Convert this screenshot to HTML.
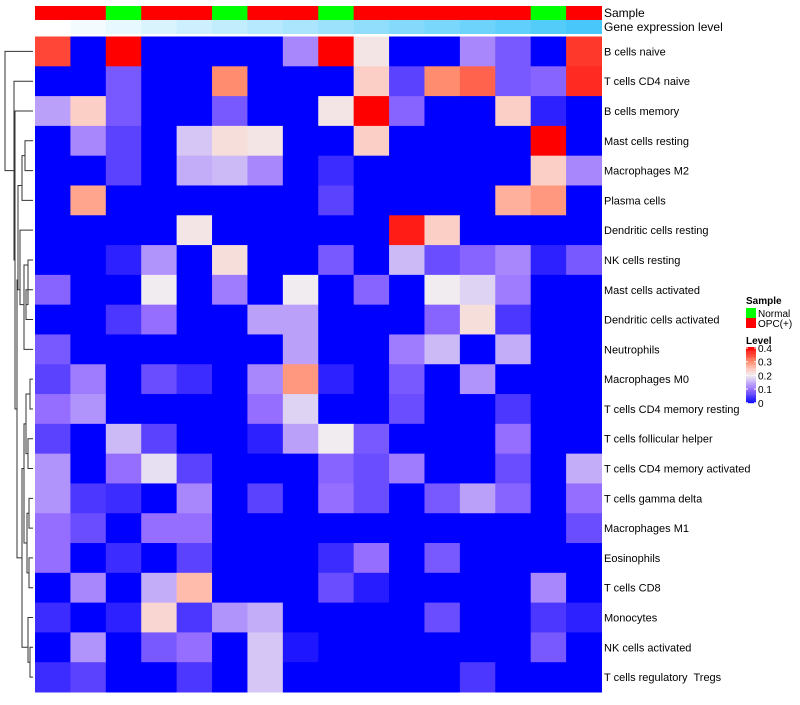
<!DOCTYPE html>
<html><head><meta charset="utf-8"><style>
body{margin:0;background:#fff;width:800px;height:700px;overflow:hidden}
svg{font-family:"Liberation Sans",sans-serif}
text{white-space:pre}
</style></head><body>
<svg id="chart" width="800" height="700" xmlns="http://www.w3.org/2000/svg"></svg>
<script>
const rowLabels=["B cells naive","T cells CD4 naive","B cells memory","Mast cells resting","Macrophages M2","Plasma cells","Dendritic cells resting","NK cells resting","Mast cells activated","Dendritic cells activated","Neutrophils","Macrophages M0","T cells CD4 memory resting","T cells follicular helper","T cells CD4 memory activated","T cells gamma delta","Macrophages M1","Eosinophils","T cells CD8","Monocytes","NK cells activated","T cells regulatory  Tregs"];
const sampleGroups=["OPC","OPC","Normal","OPC","OPC","Normal","OPC","OPC","Normal","OPC","OPC","OPC","OPC","OPC","Normal","OPC"];
const geneLevels=[0,1,2,3,4,5,6,7,8,9,10,11,12,13,14,15];
const values=[
[0.35,0,0.4,0,0,0,0,0.12,0.4,0.21,0,0,0.12,0.08,0,0.36],
[0,0,0.08,0,0,0.3,0,0,0,0.24,0.06,0.3,0.33,0.08,0.09,0.37],
[0.14,0.24,0.08,0,0,0.08,0,0,0.21,0.4,0.09,0,0,0.24,0.03,0],
[0,0.12,0.06,0,0.17,0.22,0.21,0,0,0.24,0,0,0,0,0.4,0],
[0,0,0.06,0,0.15,0.16,0.12,0,0.04,0,0,0,0,0,0.24,0.12],
[0,0.28,0,0,0,0,0,0,0.06,0,0,0,0,0.27,0.29,0],
[0,0,0,0,0.21,0,0,0,0,0,0.38,0.24,0,0,0,0],
[0,0,0.03,0.13,0,0.22,0,0,0.08,0,0.16,0.07,0.09,0.12,0.03,0.08],
[0.09,0,0,0.2,0,0.11,0,0.2,0,0.09,0,0.2,0.18,0.11,0,0],
[0,0,0.05,0.1,0,0,0.14,0.14,0,0,0,0.09,0.22,0.05,0,0],
[0.08,0,0,0,0,0,0,0.14,0,0,0.11,0.16,0,0.15,0,0],
[0.06,0.11,0,0.07,0.04,0,0.12,0.29,0.03,0,0.08,0,0.13,0,0,0],
[0.1,0.13,0,0,0,0,0.1,0.18,0,0,0.07,0,0,0.05,0,0],
[0.06,0,0.16,0.06,0,0,0.03,0.14,0.2,0.08,0,0,0,0.1,0,0],
[0.13,0,0.1,0.19,0.06,0,0,0,0.09,0.07,0.11,0,0,0.07,0,0.15],
[0.13,0.05,0.04,0,0.12,0,0.06,0,0.1,0.07,0,0.08,0.14,0.09,0,0.1],
[0.1,0.07,0,0.1,0.1,0,0,0,0,0,0,0,0,0,0,0.07],
[0.1,0,0.04,0,0.06,0,0,0,0.04,0.1,0,0.08,0,0,0,0],
[0,0.12,0,0.15,0.26,0,0,0,0.07,0.025,0,0,0,0,0.12,0],
[0.04,0,0.03,0.23,0.05,0.13,0.15,0,0,0,0,0.07,0,0,0.05,0.03],
[0,0.13,0,0.08,0.1,0,0.17,0.02,0,0,0,0,0,0,0.08,0],
[0.04,0.06,0,0,0.05,0,0.17,0,0,0,0,0,0.05,0,0,0]];
const legendTicks=["0.4","0.3","0.2","0.1","0"];

const NS="http://www.w3.org/2000/svg";
const svg=document.getElementById('chart');
function mk(t,a,p){const e=document.createElementNS(NS,t);for(const k in a)e.setAttribute(k,a[k]);(p||svg).appendChild(e);return e;}
const X0=35,X1=601.5,Y0=36.5,Y1=692;
const cw=(X1-X0)/16,rh=(Y1-Y0)/rowLabels.length;
const xs=i=>X0+i*cw, ys=j=>Y0+j*rh;
const stops=[[0,[0,0,255]],[0.1,[150,110,255]],[0.2,[240,236,240]],[0.25,[255,200,188]],[0.3,[255,140,110]],[0.4,[255,0,0]]];
function col(v){v=Math.max(0,Math.min(0.4,v));for(let i=1;i<stops.length;i++){if(v<=stops[i][0]){const a=stops[i-1],b=stops[i],t=(v-a[0])/(b[0]-a[0]);return 'rgb('+a[1].map((c,k)=>Math.round(c+(b[1][k]-c)*t)).join(',')+')';}}return 'rgb(255,0,0)';}
const g=mk('g',{});


values.forEach((row,j)=>row.forEach((v,i)=>{
 const r=mk('rect',{x:xs(i),y:ys(j),width:cw+0.5,height:rh+0.5,fill:col(v)},g);
 
 
}));
sampleGroups.forEach((s,i)=>{
 const r=mk('rect',{x:xs(i),y:6,width:cw+0.5,height:14,fill:s==="Normal"?"#00ff00":"#ff0000"});
 
 
});
geneLevels.forEach((v,i)=>{
 const t=v/15;
 const c='rgb('+Math.round(255-(255-72)*t)+','+Math.round(255-(255-200)*t)+','+Math.round(255-(255-250)*t)+')';
 const r=mk('rect',{x:xs(i),y:20,width:cw+0.5,height:14,fill:c});
 
 
});
function txt(x,y,s,name,extra){const t=mk('text',Object.assign({x:x,y:y,'font-size':11,fill:'#000'},extra||{}));t.textContent=s;return t;}
txt(604,17,"Sample","sample-annotation-label",{'font-size':12});
txt(604,31,"Gene expression level","gene-expression-annotation-label",{'font-size':12});
rowLabels.forEach((l,j)=>txt(604,ys(j)+rh/2+4,l,'row-label'));
const dg=mk('g',{stroke:'#333','stroke-width':1,fill:'none'});


const cy=j=>ys(j)+rh/2;
function link(x,ya,yb,xa,xb){mk('path',{d:`M${xa},${ya}H${x}V${yb}H${xb}`},dg);}
const L=[
[25,cy(3),cy(4),33,33],[22,cy(5),(cy(3)+cy(4))/2,33,25],
[28,cy(7),(cy(8)+cy(9))/2,33,26],[26,cy(8),cy(9),33,33],[24,cy(10),cy(7)+5,33,28],
[30,cy(11),cy(12),33,33],[28,cy(13),cy(14),33,33],[26,(cy(11)+cy(12))/2,(cy(13)+cy(14))/2,30,28],
[29,cy(15),cy(16),33,33],[29,cy(17),cy(18),33,33],[27,(cy(15)+cy(16))/2,(cy(17)+cy(18))/2,29,29],
[24,(cy(11)+cy(12)+cy(13)+cy(14))/4,(cy(15)+cy(18))/2,26,27],
[30,cy(20),cy(21),33,33],[28,cy(19),(cy(20)+cy(21))/2,33,30],
[22,(cy(15)+cy(18)+cy(11)+cy(12))/4,(cy(19)+cy(21))/2,24,28],
[20,cy(6),(cy(10)+cy(7))/2,33,24],[18,(cy(5)+cy(4))/2,cy(8),22,20],
[17,cy(7)+20,(cy(15)+cy(19))/2,18,22],
[15,cy(2),cy(12),33,17],[14,cy(1),(cy(2)+cy(12))/2,33,15],[5,cy(0),(cy(1)+cy(7))/2,33,14]];
L.forEach(a=>link(a[0],a[1],a[2],a[3],a[4]));
txt(746,304,"Sample","legend-sample-title",{'font-size':10,'font-weight':'bold'});
[["Normal","#00ff00"],["OPC(+)","#ff0000"]].forEach((e,i)=>{
 const r=mk('rect',{x:746,y:308+i*10,width:10,height:10,fill:e[1]});
 
 
 txt(758,317+i*10,e[0],'legend-entry',{'font-size':10});
});
txt(746,344,"Level","legend-level-title",{'font-size':10,'font-weight':'bold'});
for(let k=0;k<40;k++){const r=mk('rect',{x:746,y:347+k*1.4,width:10,height:1.6,fill:col(0.4-k*0.01)});}
legendTicks.forEach((t,i)=>{
 const y=348+i*13.7;
 mk('line',{x1:746,x2:748,y1:y,y2:y,stroke:'#fff'});mk('line',{x1:754,x2:756,y1:y,y2:y,stroke:'#fff'});
 txt(758,y+4,t,'legend-tick-label',{'font-size':10});
});
</script>
</body></html>
